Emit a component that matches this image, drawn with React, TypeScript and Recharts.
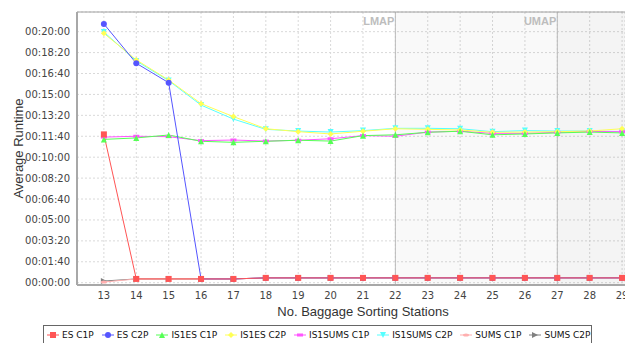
import React from "react";
import {
  LineChart,
  Line,
  XAxis,
  YAxis,
  CartesianGrid,
  ReferenceArea,
  ReferenceLine,
} from "recharts";

// x categories: number of baggage sorting stations
const stations = [13, 14, 15, 16, 17, 18, 19, 20, 21, 22, 23, 24, 25, 26, 27, 28, 29];

// average runtime in seconds
const esC1P = [709, 18, 18, 18, 18, 23, 23, 23, 23, 23, 23, 23, 23, 23, 23, 23, 23];
const esC2P = [1237, 1049, 956, 18, 18, 23, 23, 23, 23, 23, 23, 23, 23, 23, 23, 23, 23];
const is1esC1P = [685, 692, 706, 676, 671, 676, 681, 677, 703, 707, 719, 724, 707, 711, 716, 720, 716];
const is1esC2P = [1192, 1065, 969, 856, 794, 736, 722, 711, 724, 736, 733, 730, 719, 720, 722, 725, 736];
const is1sumsC1P = [696, 700, 698, 679, 682, 677, 681, 688, 703, 700, 720, 724, 714, 714, 719, 723, 722];
const is1sumsC2P = [1198, 1060, 966, 849, 782, 733, 725, 720, 727, 738, 738, 736, 722, 727, 725, 725, 722];
const sumsC1P = [3, 18, 18, 18, 18, 23, 23, 23, 23, 23, 23, 23, 23, 23, 23, 23, 23];
const sumsC2P = [8, 18, 18, 18, 18, 23, 23, 23, 23, 23, 23, 23, 23, 23, 23, 23, 23];

const yTicks = [0, 100, 200, 300, 400, 500, 600, 700, 800, 900, 1000, 1100, 1200];

const LMAP = 22;
const UMAP = 27;

type Shape = "square" | "circle" | "up" | "diamond" | "hrect" | "down" | "ellipse" | "right";

const SERIES: { key: string; name: string; values: number[]; color: string; shape: Shape }[] = [
  { key: "esC1P", name: "ES C1P", values: esC1P, color: "#ff5555", shape: "square" },
  { key: "esC2P", name: "ES C2P", values: esC2P, color: "#5555ff", shape: "circle" },
  { key: "is1esC1P", name: "IS1ES C1P", values: is1esC1P, color: "#55ff55", shape: "up" },
  { key: "is1esC2P", name: "IS1ES C2P", values: is1esC2P, color: "#ffff55", shape: "diamond" },
  { key: "is1sumsC1P", name: "IS1SUMS C1P", values: is1sumsC1P, color: "#ff55ff", shape: "hrect" },
  { key: "is1sumsC2P", name: "IS1SUMS C2P", values: is1sumsC2P, color: "#55ffff", shape: "down" },
  { key: "sumsC1P", name: "SUMS C1P", values: sumsC1P, color: "#ffafaf", shape: "ellipse" },
  { key: "sumsC2P", name: "SUMS C2P", values: sumsC2P, color: "#808080", shape: "right" },
];

const data = stations.map((s, i) => {
  const row: Record<string, number> = { x: s };
  for (const ser of SERIES) row[ser.key] = ser.values[i];
  return row;
});

function pad(n: number) {
  return String(n).padStart(2, "0");
}

function fmtTime(s: number) {
  const h = Math.floor(s / 3600);
  const m = Math.floor((s % 3600) / 60);
  return `${pad(h)}:${pad(m)}:${pad(s % 60)}`;
}

function Marker({ shape, color, cx, cy }: { shape: Shape; color: string; cx: number; cy: number }) {
  const r = 3;
  switch (shape) {
    case "square":
      return <rect x={cx - r} y={cy - r} width={2 * r} height={2 * r} fill={color} />;
    case "circle":
      return <circle cx={cx} cy={cy} r={r} fill={color} />;
    case "up":
      return <polygon points={`${cx},${cy - r} ${cx + r},${cy + r} ${cx - r},${cy + r}`} fill={color} />;
    case "diamond":
      return <polygon points={`${cx},${cy - r} ${cx + r},${cy} ${cx},${cy + r} ${cx - r},${cy}`} fill={color} />;
    case "hrect":
      return <rect x={cx - r} y={cy - r / 2} width={2 * r} height={r} fill={color} />;
    case "down":
      return <polygon points={`${cx - r},${cy - r} ${cx + r},${cy - r} ${cx},${cy + r}`} fill={color} />;
    case "ellipse":
      return <ellipse cx={cx} cy={cy} rx={r} ry={r / 2} fill={color} />;
    case "right":
      return <polygon points={`${cx - r},${cy - r} ${cx + r},${cy} ${cx - r},${cy + r}`} fill={color} />;
  }
  return null;
}

const tickStyle = { fill: "#444", fontSize: 10, fontFamily: "DejaVu Sans" };

function MapLabel(text: string) {
  return (props: any) => {
    const vb = props.viewBox || {};
    return (
      <text
        x={vb.x - 1}
        y={vb.y + 13}
        textAnchor="end"
        fill="#bdbdbd"
        fontSize={11}
        fontWeight="bold"
        fontFamily="Liberation Sans"
      >
        {text}
      </text>
    );
  };
}

export default function App() {
  // JFreeChart paints the first series last, so draw in reverse
  const drawOrder = [...SERIES].reverse();

  return (
    <div style={{ position: "relative", width: 625, height: 343, overflow: "hidden", background: "#fff" }}>
      <style>{"body{margin:0}"}</style>
      <LineChart width={625} height={343} data={data} margin={{ top: 12, right: 0, left: 0, bottom: 0 }}>
        {/* two overlapping translucent bands, like the interval markers */}
        <ReferenceArea x1={LMAP} x2={29.09} y1={-11} y2={1294} fill="#000" fillOpacity={0.022} stroke="none" />
        <ReferenceArea x1={UMAP} x2={29.09} y1={-11} y2={1294} fill="#000" fillOpacity={0.02} stroke="none" />
        <CartesianGrid stroke="#d9d9d9" strokeDasharray="2 2" />
        <ReferenceLine x={LMAP} stroke="#bbbbbb" label={MapLabel("LMAP")} />
        <ReferenceLine x={UMAP} stroke="#bbbbbb" label={MapLabel("UMAP")} />
        <ReferenceLine y={1294} stroke="#a0a0a0" />
        <XAxis
          dataKey="x"
          type="number"
          domain={[12.17, 29.09]}
          ticks={stations}
          interval={0}
          allowDataOverflow
          height={58}
          tick={tickStyle}
          tickLine={false}
          tickSize={0}
          tickMargin={7}
          axisLine={{ stroke: "#a8a8a8", strokeWidth: 2 }}
          label={(props: any) => (
            <text
              x={363}
              y={311}
              textAnchor="middle"
              dominantBaseline="central"
              fill="#333"
              fontSize={13}
              fontFamily="Liberation Sans"
            >
              No. Baggage Sorting Stations
            </text>
          )}
        />
        <YAxis
          type="number"
          domain={[-11, 1294]}
          ticks={yTicks}
          interval={0}
          allowDataOverflow
          width={77}
          tick={tickStyle}
          tickLine={false}
          tickSize={0}
          tickMargin={7}
          tickFormatter={fmtTime}
          axisLine={{ stroke: "#a8a8a8", strokeWidth: 2 }}
          label={(props: any) => {
            const vb = props.viewBox || { y: 12, height: 273 };
            const cy = vb.y + vb.height / 2;
            return (
              <text
                x={18}
                y={cy}
                transform={`rotate(-90 18 ${cy})`}
                textAnchor="middle"
                dominantBaseline="central"
                fill="#333"
                fontSize={13}
                fontFamily="Liberation Sans"
              >
                Average Runtime
              </text>
            );
          }}
        />
        {drawOrder.map((s) => (
          <Line
            key={s.key}
            dataKey={s.key}
            name={s.name}
            type="linear"
            stroke={s.color}
            strokeWidth={1}
            isAnimationActive={false}
            activeDot={false}
            dot={(p: any) => (
              <Marker key={`${s.key}-${p.index}`} shape={s.shape} color={s.color} cx={p.cx} cy={p.cy} />
            )}
          />
        ))}
      </LineChart>
      {/* legend box under the plot */}
      <div
        style={{
          position: "absolute",
          left: 43,
          top: 325,
          width: 549,
          height: 24,
          border: "1px solid #666",
          boxSizing: "border-box",
          display: "flex",
          alignItems: "flex-start",
          paddingTop: 4,
          paddingLeft: 3,
          gap: 8,
          fontFamily: "DejaVu Sans",
          fontSize: 9,
          color: "#111",
          whiteSpace: "nowrap",
        }}
      >
        {SERIES.map((s) => (
          <div key={s.key} style={{ display: "flex", alignItems: "center", gap: 3 }}>
            <svg width={12} height={10}>
              <line x1={0} y1={5} x2={12} y2={5} stroke={s.color} strokeWidth={1} />
              <Marker shape={s.shape} color={s.color} cx={6} cy={5} />
            </svg>
            <span>{s.name}</span>
          </div>
        ))}
      </div>
    </div>
  );
}
